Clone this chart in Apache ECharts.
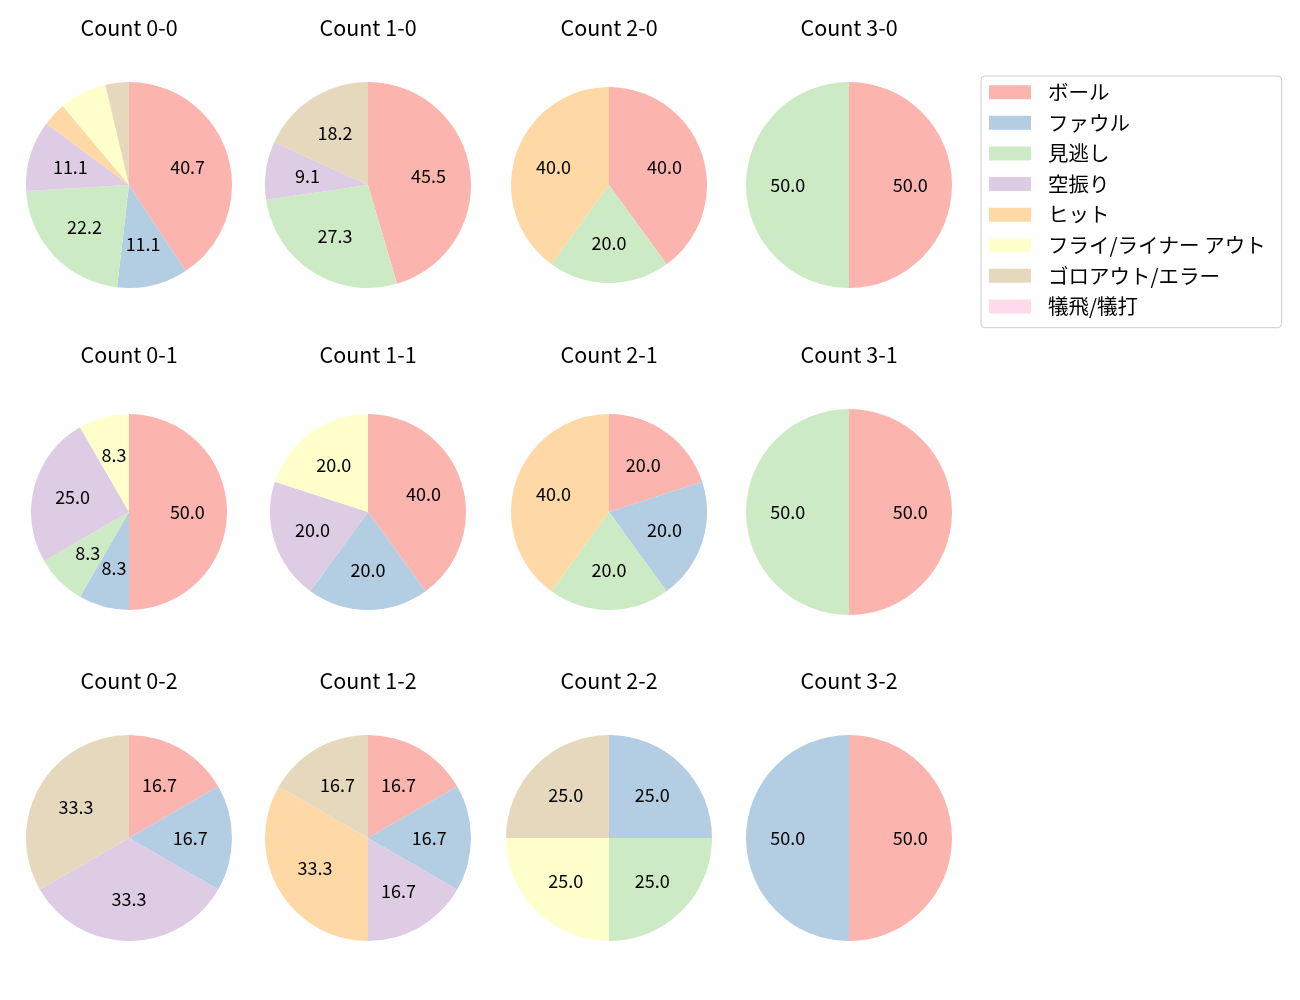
<!DOCTYPE html>
<html>
<head>
<meta charset="utf-8">
<script src="https://cdn.jsdelivr.net/npm/echarts@6/dist/echarts.min.js"></script>
<style>
  html, body { margin: 0; padding: 0; background: #fff; }
  #main { width: 1300px; height: 1000px; }
</style>
</head>
<body>
<div id="main"></div>
<script>
// 打席結果の区分
const categories = ["ボール", "ファウル", "見逃し", "空振り", "ヒット", "フライ/ライナー アウト", "ゴロアウト/エラー", "犠飛/犠打"];
// カウントごとの件数（categories の順）
const countTitles = [
  "Count 0-0", "Count 1-0", "Count 2-0", "Count 3-0",
  "Count 0-1", "Count 1-1", "Count 2-1", "Count 3-1",
  "Count 0-2", "Count 1-2", "Count 2-2", "Count 3-2"
];
const count00 = [11, 3, 6, 3, 1, 2, 1, 0];
const count10 = [5, 0, 3, 1, 0, 0, 2, 0];
const count20 = [2, 0, 1, 0, 2, 0, 0, 0];
const count30 = [1, 0, 1, 0, 0, 0, 0, 0];
const count01 = [6, 1, 1, 3, 0, 1, 0, 0];
const count11 = [2, 1, 0, 1, 0, 1, 0, 0];
const count21 = [1, 1, 1, 0, 2, 0, 0, 0];
const count31 = [1, 0, 1, 0, 0, 0, 0, 0];
const count02 = [1, 1, 0, 2, 0, 0, 2, 0];
const count12 = [1, 1, 0, 1, 2, 0, 1, 0];
const count22 = [0, 1, 1, 0, 0, 1, 1, 0];
const count32 = [1, 1, 0, 0, 0, 0, 0, 0];
const countValues = [count00, count10, count20, count30, count01, count11, count21, count31, count02, count12, count22, count32];

// Pastel1
const colors = ["#fbb4ae", "#b3cde3", "#ccebc5", "#decbe4", "#fed9a6", "#ffffcc", "#e5d8bd", "#fddaec"];

// レイアウト
const colX = [129, 368, 609, 849];
const rowY = [185, 512, 838];
const radii = [103, 103, 98, 103, 98, 98, 98, 103, 103, 103, 103, 103];
const fontFamily = "'Noto Sans CJK JP', 'DejaVu Sans', sans-serif";

const chart = echarts.init(document.getElementById("main"));

const titles = [];
const series = [];
countValues.forEach((vals, i) => {
  const cx = colX[i % 4];
  const cy = rowY[Math.floor(i / 4)];
  const r = radii[i];
  const total = vals.reduce((a, b) => a + b, 0);
  const data = categories.map((name, k) => ({ name, value: vals[k] }));

  titles.push({
    text: countTitles[i],
    left: cx,
    top: cy - 167.5,
    textAlign: "center",
    padding: 0,
    textStyle: { fontFamily, fontSize: 21.5, fontWeight: "normal", color: "#000" }
  });

  // ラベルを半径0.6付近に置くための外側リング
  series.push({
    type: "pie",
    center: [cx, cy],
    radius: [r * 0.13, r],
    startAngle: 90,
    clockwise: true,
    avoidLabelOverlap: false,
    color: colors,
    silent: true,
    itemStyle: { borderWidth: 0 },
    label: {
      show: true,
      position: "inside",
      color: "#000",
      fontFamily,
      fontSize: 18,
      formatter: p => {
        const pct = p.value / total * 100;
        return pct < 8 ? "" : pct.toFixed(1);
      }
    },
    labelLine: { show: false },
    emphasis: { disabled: true },
    data
  });
  // 中心部分
  series.push({
    type: "pie",
    center: [cx, cy],
    radius: [0, r * 0.13 + 1.5],
    startAngle: 90,
    clockwise: true,
    color: colors,
    silent: true,
    itemStyle: { borderWidth: 0 },
    label: { show: false },
    labelLine: { show: false },
    emphasis: { disabled: true },
    data
  });
});

const option = {
  animation: false,
  backgroundColor: "#fff",
  title: titles,
  legend: {
    data: categories,
    orient: "vertical",
    left: 981,
    top: 76,
    padding: [6, 16, 11, 8],
    itemWidth: 42,
    itemHeight: 14,
    itemGap: 10.1,
    icon: "rect",
    borderColor: "#cccccc",
    borderWidth: 1,
    borderRadius: 4,
    selectedMode: false,
    textStyle: {
      fontFamily,
      fontSize: 20.5,
      lineHeight: 20,
      color: "#000",
      padding: [0, 0, 0, 12]
    }
  },
  series
};
chart.setOption(option);
</script>
</body>
</html>
